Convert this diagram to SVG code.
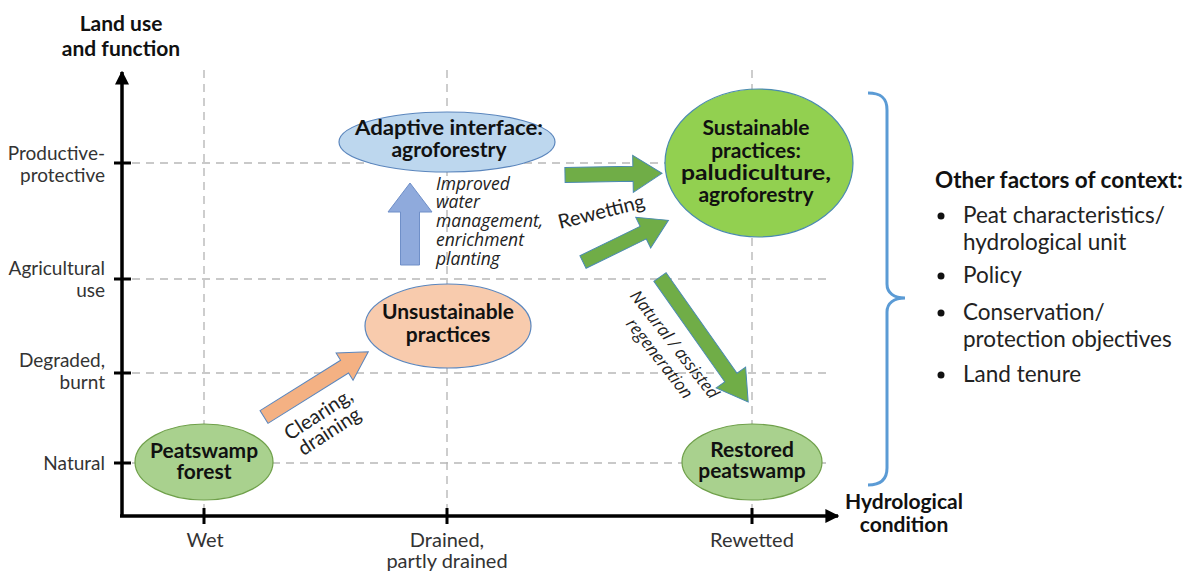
<svg xmlns="http://www.w3.org/2000/svg" width="1186" height="571" viewBox="0 0 1186 571">
<style>
.grid{stroke:#b8b8b8;stroke-width:1.4;stroke-dasharray:8,6;fill:none}
.axis{stroke:#000;stroke-width:3.5;fill:none}
.tick{stroke:#000;stroke-width:3;fill:none}
.lbl{font-family:Lato,"Open Sans",sans-serif;font-size:19px;fill:#333}
.xl{font-size:20px}
.bold{font-family:Lato,"Open Sans",sans-serif;font-size:21px;font-weight:bold;fill:#111}
.node{font-family:Lato,"Open Sans",sans-serif;font-size:21px;font-weight:bold;fill:#111;text-anchor:middle}
.it{font-family:"Open Sans",Lato,sans-serif;font-size:17.5px;font-style:italic;fill:#222}
.rot{font-family:Lato,"Open Sans",sans-serif;font-size:20px;fill:#222}
.ctx{font-family:Lato,"Open Sans",sans-serif;font-size:22.5px;fill:#222}
</style>
<defs>
<marker id="ah" viewBox="0 0 10 10" refX="9" refY="5" markerWidth="4" markerHeight="4" orient="auto"><path d="M0,0L10,5L0,10z" fill="#000"/></marker>
</defs>
<rect width="1186" height="571" fill="#fff"/>
<g id="grid">
<line class="grid" x1="204" y1="70" x2="204" y2="514"/>
<line class="grid" x1="447" y1="70" x2="447" y2="514"/>
<line class="grid" x1="752" y1="70" x2="752" y2="514"/>
<line class="grid" x1="132" y1="163" x2="830" y2="163"/>
<line class="grid" x1="132" y1="279" x2="830" y2="279"/>
<line class="grid" x1="132" y1="373" x2="830" y2="373"/>
<line class="grid" x1="132" y1="463" x2="830" y2="463"/>
</g>
<g id="axes">
<path class="axis" d="M122,516V72" marker-end="url(#ah)"/>
<path class="axis" d="M120,516H838" marker-end="url(#ah)"/>
<path class="tick" d="M114,163H131M114,279H131M114,373H131M114,463H131M204,508V524M447,508V524M752,508V524"/>
<text class="bold" x="121" y="31" text-anchor="middle">Land use</text>
<text class="bold" x="121" y="56" text-anchor="middle">and function</text>
<text class="bold" x="904" y="509" text-anchor="middle">Hydrological</text>
<text class="bold" x="904" y="532" text-anchor="middle">condition</text>
<g class="lbl" text-anchor="end">
<text x="105" y="160">Productive-</text>
<text x="105" y="182">protective</text>
<text x="105" y="275">Agricultural</text>
<text x="105" y="297">use</text>
<text x="105" y="367">Degraded,</text>
<text x="105" y="389">burnt</text>
<text x="105" y="470">Natural</text>
</g>
<g class="lbl xl" text-anchor="middle">
<text x="205" y="547">Wet</text>
<text x="447" y="547">Drained,</text>
<text x="447" y="568">partly drained</text>
<text x="752" y="547">Rewetted</text>
</g>
</g>
<g id="connectors">
<polygon transform="translate(264,417) rotate(-32)" points="0,-7.5 95,-7.5 95,-16 123,0 95,16 95,7.5 0,7.5" fill="#f4b183" stroke="#5b86bd" stroke-width="1"/>
<polygon transform="translate(410,265) rotate(-90)" points="0,-9.5 53,-9.5 53,-22 82,0 53,22 53,9.5 0,9.5" fill="#8faadc" stroke="#6f8fc8" stroke-width="1"/>
<polygon transform="translate(565,175) rotate(-1)" points="0,-7.5 68,-7.5 68,-18.5 97,0 68,18.5 68,7.5 0,7.5" fill="#70ad47" stroke="#4a8ab0" stroke-width="1"/>
<polygon transform="translate(583,262) rotate(-26)" points="0,-7 67,-7 67,-17 95,0 67,17 67,7 0,7" fill="#70ad47" stroke="#4a8ab0" stroke-width="1"/>
<polygon transform="translate(660,277) rotate(54.8)" points="0,-7.5 123,-7.5 123,-18 153,0 123,18 123,7.5 0,7.5" fill="#70ad47" stroke="#4a8ab0" stroke-width="1"/>
<text class="rot" transform="translate(322,420) rotate(-33)" text-anchor="middle">Clearing,</text>
<text class="rot" transform="translate(333,437) rotate(-33)" text-anchor="middle">draining</text>
<g class="it">
<text x="436" y="190">Improved</text>
<text x="436" y="208">water</text>
<text x="436" y="227">management,</text>
<text x="436" y="246">enrichment</text>
<text x="436" y="265">planting</text>
</g>
<text class="rot" transform="translate(560,229) rotate(-14)">Rewetting</text>
<text class="it" transform="translate(670,348) rotate(52)" text-anchor="middle" style="font-size:17px">Natural / assisted</text>
<text class="it" transform="translate(655,362) rotate(52)" text-anchor="middle" style="font-size:17px">regeneration</text>
</g>
<g id="peatswamp-forest">
<ellipse cx="204" cy="462" rx="69" ry="38" fill="#a9d18e" stroke="#6fa04a" stroke-width="1.2"/>
<text class="node" x="204" y="458">Peatswamp</text>
<text class="node" x="204" y="479">forest</text>
</g>
<g id="unsustainable">
<ellipse cx="448" cy="326" rx="83" ry="42" fill="#f8cbad" stroke="#5b86bd" stroke-width="1.2"/>
<text class="node" x="448" y="319">Unsustainable</text>
<text class="node" x="448" y="342">practices</text>
</g>
<g id="adaptive">
<ellipse cx="447" cy="142" rx="108" ry="30" fill="#bdd7ee" stroke="#5b86bd" stroke-width="1.2"/>
<text class="node" x="449" y="135" textLength="188" lengthAdjust="spacingAndGlyphs">Adaptive interface:</text>
<text class="node" x="449" y="157">agroforestry</text>
</g>
<g id="sustainable">
<ellipse cx="759" cy="163" rx="94" ry="74" fill="#92d050" stroke="#4a8ab0" stroke-width="1.2"/>
<text class="node" x="756" y="135">Sustainable</text>
<text class="node" x="756" y="158">practices:</text>
<text class="node" x="756" y="180" textLength="150" lengthAdjust="spacingAndGlyphs">paludiculture,</text>
<text class="node" x="756" y="202">agroforestry</text>
</g>
<g id="restored">
<ellipse cx="752" cy="462" rx="70" ry="38" fill="#a9d18e" stroke="#6fa04a" stroke-width="1.2"/>
<text class="node" x="752" y="457">Restored</text>
<text class="node" x="752" y="478">peatswamp</text>
</g>
<g id="context">
<path d="M868,93C880,93 887,97 887,110V284C887,293 894,298 905,298C894,298 887,303 887,312V468C887,480 880,485 868,485" fill="none" stroke="#5b9bd5" stroke-width="3"/>
<text class="ctx" x="935" y="188" font-weight="bold" style="fill:#111">Other factors of context:</text>
<g class="ctx">
<circle cx="941" cy="216" r="3.5" fill="#111"/>
<text x="963" y="223">Peat characteristics/</text>
<text x="963" y="250">hydrological unit</text>
<circle cx="941" cy="276" r="3.5" fill="#111"/>
<text x="963" y="283">Policy</text>
<circle cx="941" cy="313" r="3.5" fill="#111"/>
<text x="963" y="320">Conservation/</text>
<text x="963" y="347">protection objectives</text>
<circle cx="941" cy="375" r="3.5" fill="#111"/>
<text x="963" y="382">Land tenure</text>
</g>
</g>
</svg>
